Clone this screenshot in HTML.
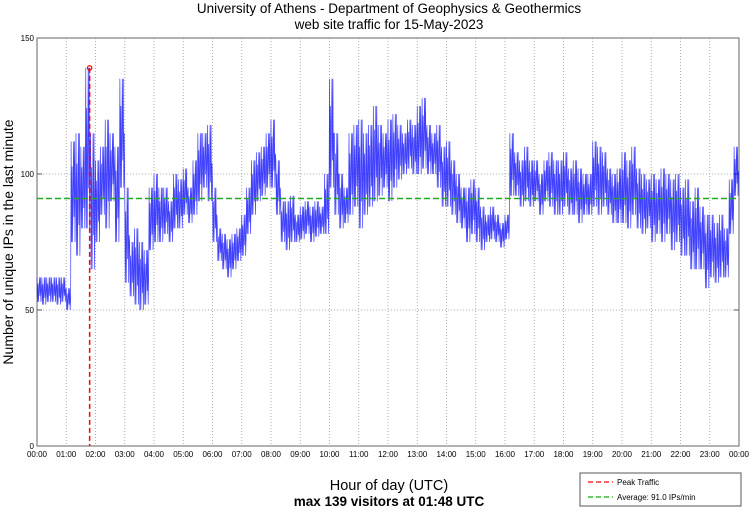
<!DOCTYPE html>
<html><head><meta charset="utf-8"><style>
body{margin:0;background:#fff;font-family:"Liberation Sans",sans-serif;}
svg text{font-family:"Liberation Sans",sans-serif;}
</style></head><body>
<svg id="chart" width="750" height="511" viewBox="0 0 750 511" xmlns="http://www.w3.org/2000/svg">
<text x="389" y="13" font-size="13.5" text-anchor="middle">University of Athens - Department of Geophysics &amp; Geothermics</text>
<text x="389" y="29" font-size="13.5" text-anchor="middle">web site traffic for 15-May-2023</text>
<g id="grid"></g>
<g id="axes"></g>
<g id="series"></g>
<g id="overlay"></g>
<text transform="translate(13,242) rotate(-90)" font-size="14" text-anchor="middle">Number of unique IPs in the last minute</text>
<text x="389" y="490" font-size="14.5" text-anchor="middle">Hour of day (UTC)</text>
<text x="389" y="506" font-size="13.5" font-weight="bold" text-anchor="middle">max 139 visitors at 01:48 UTC</text>
<g>
<rect x="580" y="473" width="161" height="33" fill="#fff" stroke="#555" stroke-width="1"/>
<line x1="588" y1="482" x2="613" y2="482" stroke="#f00" stroke-width="1.3" stroke-dasharray="5,3"/>
<text x="617" y="485" font-size="8">Peak Traffic</text>
<line x1="588" y1="497" x2="613" y2="497" stroke="#1a1" stroke-width="1.3" stroke-dasharray="5,3"/>
<text x="617" y="500" font-size="8">Average: 91.0 IPs/min</text>
</g>
</svg>
<script>
const hiValues=[62,62,62,62,62,62, 58,112,115,110,139,115, 105,110,120,115,110,135, 95,75,80,75,72,95,
100,95,95,90,100,98, 102,95,105,115,115,118, 95,80,78,76,78,80, 85,95,105,108,110,115,
120,105,90,90,92,85, 88,90,88,90,88,100, 135,115,100,95,115,118, 120,115,118,125,118,115,
120,122,118,115,120,118, 125,128,118,115,118,110, 112,105,100,95,95,98, 95,88,85,88,85,82,
85,115,108,105,110,105, 105,100,105,108,105,105, 108,102,105,102,100,100, 112,110,108,102,100,102,
108,105,110,102,100,98, 100,98,102,100,98,100, 95,98,90,95,88,85, 85,82,85,80,98,110];
const loValues=[53,52,53,53,52,53, 50,75,70,80,80,65, 75,85,80,90,75,95, 60,55,52,50,52,72,
75,75,78,75,80,80, 85,82,85,90,95,90, 75,68,65,62,65,68, 70,78,85,90,92,95,
95,85,75,72,75,75, 76,78,75,77,78,78, 95,85,80,82,85,88, 80,85,88,90,92,95,
90,95,98,100,102,100, 100,102,100,100,95,88, 88,85,82,80,75,78, 75,72,75,76,75,73,
76,92,92,88,90,88, 90,85,90,88,85,85, 88,85,85,82,85,85, 88,85,88,85,82,82,
82,80,85,80,78,80, 75,78,75,78,72,75, 70,70,65,65,65,58, 62,60,62,62,78,92];
const yTicks=[0,50,100,150];
const xTickLabels=["00:00","01:00","02:00","03:00","04:00","05:00","06:00","07:00","08:00","09:00","10:00","11:00","12:00","13:00","14:00","15:00","16:00","17:00","18:00","19:00","20:00","21:00","22:00","23:00","00:00"];
const peakValue=[139];
const peakMinute=[108];
const averageValue=[91.0];

const X0=37,X1=739,Y0=446,Y1=38;
const xs=m=>X0+(X1-X0)*m/1440;
const ys=v=>Y0-(Y0-Y1)*v/150;
const NS="http://www.w3.org/2000/svg";
function mk(tag,attrs,parent){const e=document.createElementNS(NS,tag);for(const k in attrs)e.setAttribute(k,attrs[k]);parent.appendChild(e);return e;}
const grid=document.getElementById('grid'),axes=document.getElementById('axes'),series=document.getElementById('series'),ov=document.getElementById('overlay');

xTickLabels.forEach((t,i)=>{
  const x=xs(i*60);
  if(i>0&&i<24){const g=mk('line',{x1:x,y1:Y1,x2:x,y2:Y0,stroke:'#999','stroke-width':0.8,'stroke-dasharray':'1,2'},grid);
  
  }
  const tl=mk('text',{x:x,y:Y0+11,'font-size':8,'text-anchor':'middle'},axes);
  tl.textContent=t;
  
  
});
yTicks.forEach(v=>{
  const y=ys(v);
  if(v>0&&v<150){const g=mk('line',{x1:X0,y1:y,x2:X1,y2:y,stroke:'#999','stroke-width':0.8,'stroke-dasharray':'1,2'},grid);
  
  }
  mk('line',{x1:X0,y1:y,x2:X0+5,y2:y,stroke:'#555'},axes);
  mk('line',{x1:X1,y1:y,x2:X1-5,y2:y,stroke:'#555'},axes);
  const tl=mk('text',{x:X0-3,y:y+3,'font-size':8,'text-anchor':'end'},axes);
  tl.textContent=v;
  
  
});
const frame=mk('rect',{x:X0,y:Y1,width:X1-X0,height:Y0-Y1,fill:'none',stroke:'#666','stroke-width':1},axes);



// traffic line: zigzag between bucket highs and lows (10-minute buckets, 1-minute steps)
let pts=[];
for(let i=0;i<hiValues.length;i++){
  const hi=hiValues[i],lo=loValues[i],mid=(hi+lo)/2;
  const pattern=[hi,lo,(hi+mid)/2,lo,mid,hi,(lo+mid)/2,hi,lo,mid];
  for(let k=0;k<10;k++){
    pts.push(xs(i*10+k).toFixed(2)+','+ys(pattern[k]).toFixed(2));
  }
}
const line=mk('polyline',{points:pts.join(' '),fill:'none',stroke:'#0000ff','stroke-width':0.7,'stroke-opacity':0.75},series);



const avg=mk('line',{x1:X0,y1:ys(averageValue[0]),x2:X1,y2:ys(averageValue[0]),stroke:'#22aa22','stroke-width':1.5,'stroke-dasharray':'6,3'},ov);


const pk=mk('line',{x1:xs(peakMinute[0]),y1:ys(peakValue[0]),x2:xs(peakMinute[0]),y2:Y0,stroke:'#f00','stroke-width':1.5,'stroke-dasharray':'5,3'},ov);


const pc=mk('circle',{cx:xs(peakMinute[0]),cy:ys(peakValue[0]),r:2.2,fill:'none',stroke:'#f00','stroke-width':1.2},ov);


</script>
</body></html>
